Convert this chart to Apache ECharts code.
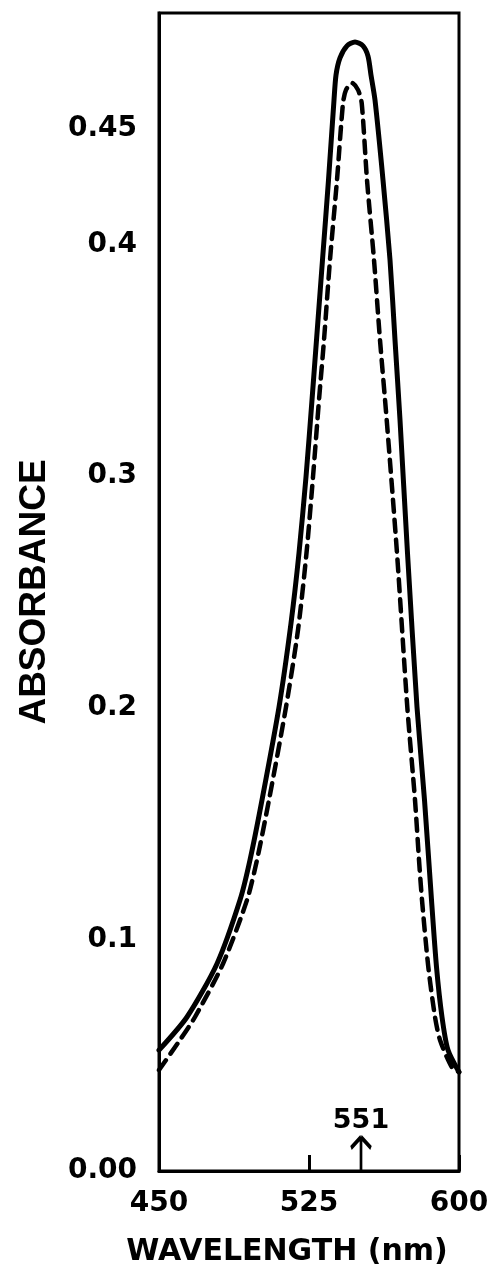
<!DOCTYPE html>
<html>
<head>
<meta charset="utf-8">
<script src="https://cdn.jsdelivr.net/npm/echarts@6/dist/echarts.min.js"></script>
<style>
  html, body { margin: 0; padding: 0; background: #fff; }
  #chart { width: 495px; height: 1273px; }
</style>
</head>
<body>
<div id="chart"></div>
<script>
// solid curve
const wlSolid = [450, 464, 479, 490.5, 495.5, 501.5, 510, 516, 520, 523.5, 526.5, 528.75, 531.75, 534.75, 537.5, 538.5, 540.5, 544, 548,
  552, 554.5, 556, 558, 562, 565.5, 568, 570.5, 574.25, 579, 582.75, 586.25, 588.75, 591.5, 594.5, 600];
const absSolid = [0.0522, 0.0665, 0.0895, 0.117, 0.1343, 0.1602, 0.2003, 0.2365, 0.2668, 0.2997, 0.3329, 0.3588, 0.3934, 0.4279, 0.4624, 0.4732, 0.4806, 0.4858, 0.4875,
  0.4858, 0.4814, 0.4732, 0.4624, 0.4279, 0.3934, 0.3588, 0.3243, 0.2668, 0.2003, 0.1602, 0.117, 0.0881, 0.0665, 0.0522, 0.0427];

// dashed curve
const wlDashed = [450, 460.5, 468, 482, 494, 499, 505, 513.5, 519.5, 523.75, 527, 530, 532.5, 535.5, 539, 542, 543.5, 546.5,
  549.5, 551.35, 554, 557.5, 560.5, 563.85, 569, 574.15, 578, 580, 581.5, 584.65, 588, 590.5, 596.35, 600];
const absDashed = [0.0436, 0.0566, 0.0665, 0.0895, 0.117, 0.1343, 0.1602, 0.2003, 0.2336, 0.2668, 0.2997, 0.3329, 0.3588, 0.3934, 0.4279, 0.4611, 0.4668, 0.4698,
  0.4668, 0.4611, 0.4279, 0.3934, 0.3588, 0.3243, 0.2668, 0.2003, 0.1602, 0.1343, 0.117, 0.0881, 0.0665, 0.0566, 0.0449, 0.0427];

// y tick labels (only these are printed)
const yLabels = { '0.00': '0.00', '0.10': '0.1', '0.20': '0.2', '0.30': '0.3', '0.40': '0.4', '0.45': '0.45' };
const peakMark = 551;

const font = 'DejaVu Sans';

function pairs (xs, ys) {
  return xs.map((x, i) => [x, ys[i]]);
}

const chart = echarts.init(document.getElementById('chart'));
const option = {
  backgroundColor: '#fff',
  animation: false,
  grid: {
    left: 159,
    right: 36,
    top: 13,
    bottom: 102,
    show: true,
    borderColor: '#000',
    borderWidth: 3
  },
  xAxis: {
    type: 'value',
    min: 450,
    max: 600,
    interval: 75,
    name: 'WAVELENGTH (nm)',
    nameLocation: 'middle',
    nameGap: 66,
    nameTextStyle: {
      fontFamily: font,
      fontWeight: 'bold',
      fontSize: 30,
      color: '#000',
      padding: [0, 44, 0, 0]
    },
    axisLine: { lineStyle: { color: '#000', width: 3 } },
    axisTick: { show: true, inside: true, length: 16, lineStyle: { color: '#000', width: 3 } },
    axisLabel: { fontFamily: font, fontWeight: 'bold', fontSize: 28, color: '#000', margin: 19 },
    splitLine: { show: false }
  },
  yAxis: {
    type: 'value',
    min: 0,
    max: 0.5,
    interval: 0.05,
    name: 'ABSORBANCE',
    nameLocation: 'middle',
    nameRotate: 90,
    nameGap: 106,
    nameTextStyle: {
      fontFamily: 'Liberation Sans',
      fontWeight: 'bold',
      fontSize: 37,
      color: '#000'
    },
    axisLine: { lineStyle: { color: '#000', width: 3 } },
    axisTick: { show: false },
    axisLabel: {
      fontFamily: font,
      fontWeight: 'bold',
      fontSize: 28,
      color: '#000',
      margin: 22,
      formatter: function (v) {
        const k = v.toFixed(2);
        return yLabels[k] || '';
      }
    },
    splitLine: { show: false }
  },
  series: [
    {
      name: 'solid',
      type: 'line',
      data: pairs(wlSolid, absSolid),
      smooth: 0.25,
      showSymbol: false,
      lineStyle: { color: '#000', width: 5, cap: 'round', join: 'round' }
    },
    {
      name: 'dashed',
      type: 'line',
      data: pairs(wlDashed, absDashed),
      smooth: 0.25,
      showSymbol: false,
      lineStyle: { color: '#000', width: 4.5, type: [12, 8], cap: 'round', join: 'round' }
    },
    {
      name: 'mark',
      type: 'scatter',
      data: [[peakMark, 0]],
      symbol: 'path://M10,0 L1,11 M10,0 L19,11 M10,0 L10,34',
      symbolSize: [20, 34],
      symbolOffset: [0, '-50%'],
      itemStyle: { color: 'rgba(0,0,0,0)', borderColor: '#000', borderWidth: 3.5, opacity: 1 },
      label: {
        show: true,
        position: 'top',
        distance: 0,
        formatter: String(peakMark),
        fontFamily: font,
        fontWeight: 'bold',
        fontSize: 27,
        color: '#000'
      },
      z: 5
    }
  ]
};
chart.setOption(option);
</script>
</body>
</html>
